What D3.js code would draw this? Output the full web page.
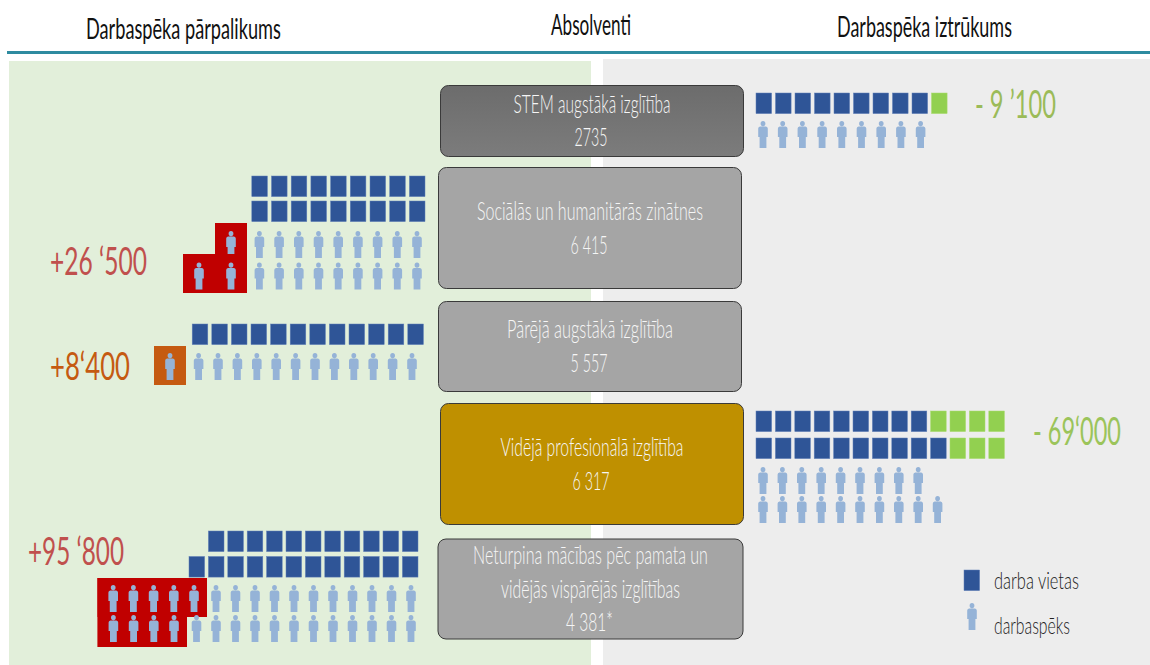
<!DOCTYPE html>
<html>
<head>
<meta charset="utf-8">
<script src="https://cdn.jsdelivr.net/npm/d3@7"></script>
<style>
    html, body { margin: 0; padding: 0; background: #fff; }
    svg { display: block; }
    text { font-family: Lato, "Open Sans", sans-serif; }
</style>
</head>
<body>
<div class="Canvas"></div>
<script>
// values
const headers = ['Darbaspēka pārpalikums', 'Absolventi', 'Darbaspēka iztrūkums'];
const categories = [
    ['STEM augstākā izglītība'],
    ['Sociālās un humanitārās zinātnes'],
    ['Pārējā augstākā izglītība'],
    ['Vidējā profesionālā izglītība'],
    ['Neturpina mācības pēc pamata un', 'vidējās vispārējās izglītības'],
];
const graduates = ['2735', '6 415', '5 557', '6 317', '4 381*'];
const balances = ['- 9 ’100', '+26 ‘500', '+8‘400', '- 69‘000', '+95 ‘800'];
// one entry for each icon row: number of squares (jobs) and figures (workers)
const jobs = [[10], [9, 9], [12], [13, 13], [11, 12]];
const workers = [[9], [10, 11], [13], [9, 10], [16, 16]];
const legendLabels = ['darba vietas', 'darbaspēks'];

const width = 1150;
const height = 665;
const squareW = 15.6;
const squareH = 20.6;

const blue = '#2f5597';
const lightBlue = '#95b3d7';
const green = '#92d050';
const red = '#c00000';
const orange = '#c55a11';

// layout of each group. side 1 grows to the right, side -1 grows to the left from the box
const layout = [
    { side: 1, start: 756, pitch: 19.5, personStart: 763, personPitch: 19.7, jobY: [93], personY: [121] },
    {
        side: -1, start: 425, pitch: 19.7, personStart: 417, personPitch: 19.7, jobY: [176, 201], personY: [231, 262.5],
        extraX: [231, 231], extraPitch: 32, extraY: [[223, 254], [254, 293]], padL: 16, padR: 16, extraColor: red,
    },
    {
        side: -1, start: 423.4, pitch: 19.6, personStart: 412, personPitch: 19.4, jobY: [324], personY: [353],
        extraX: [170], extraPitch: 32, extraY: [[346, 385]], padL: 16, padR: 16, extraColor: orange,
    },
    { side: 1, start: 756, pitch: 19.4, personStart: 763, personPitch: 19.4, jobY: [411, 438], personY: [467, 496] },
    {
        side: -1, start: 418, pitch: 19.4, personStart: 411, personPitch: 19.5, jobY: [531, 556.5], personY: [585, 615],
        extraX: [194, 174], extraPitch: 20.2, extraY: [[578, 617], [617, 647]], padL: 16, padR: 13, extraColor: red,
    },
];

const boxes = [
    { x: 440.5, y: 85.5, w: 303, h: 71, fill: 'url(#stemFill)', baselines: [113, 146] },
    { x: 438.5, y: 167.5, w: 303, h: 121, fill: '#a5a5a5', baselines: [220, 254] },
    { x: 438.5, y: 301.5, w: 303, h: 90, fill: '#a5a5a5', baselines: [338, 372] },
    { x: 440.5, y: 403.5, w: 303, h: 121, fill: '#bf9000', baselines: [456, 490] },
    { x: 438, y: 539, w: 305, h: 100, fill: '#a5a5a5', baselines: [564, 598, 631] },
];
const labelWidths = [[157], [226], [166], [183], [235, 179]];
const numberWidths = [33, 37, 37, 37, 47];

const balanceLayout = [
    { x: 975, y: 118, w: 81, fill: '#9bbb59' },
    { x: 50, y: 275, w: 97, fill: '#c0504d' },
    { x: 50, y: 380, w: 80, fill: orange },
    { x: 1033, y: 445, w: 88, fill: '#9bc45a' },
    { x: 28, y: 565, w: 96, fill: '#c0504d' },
];
const headerLayout = [
    { x: 86, y: 39, w: 195 },
    { x: 551, y: 35, w: 80 },
    { x: 837, y: 37, w: 175 },
];

const personPath = 'M-2.4,2.6 A2.4,2.6 0 1 1 2.4,2.6 A2.4,2.6 0 1 1 -2.4,2.6 Z '
    + 'M-3,5.4 L3,5.4 Q4.8,5.6 4.8,7.6 L4.8,16 L3.4,16 L3.4,27 L-3.4,27 L-3.4,16 L-4.8,16 L-4.8,7.6 Q-4.8,5.6 -3,5.4 Z';

const svg = d3.select('.Canvas').append('svg').attr('width', width).attr('height', height);

const stemFill = svg.append('defs').append('linearGradient')
    .attr('id', 'stemFill').attr('x1', 0).attr('y1', 0).attr('x2', 0).attr('y2', 1);
stemFill.append('stop').attr('offset', 0).attr('stop-color', '#6c6c6c');
stemFill.append('stop').attr('offset', 1).attr('stop-color', '#7c7c7c');

// backgrounds and the line under the headers
svg.append('rect').attr('x', 9).attr('y', 61).attr('width', 582).attr('height', 604).attr('fill', '#e2efda');
svg.append('rect').attr('x', 603).attr('y', 59).attr('width', 547).attr('height', 606).attr('fill', '#ededed');
svg.append('line')
    .attr('x1', 7).attr('x2', 1150).attr('y1', 52.5).attr('y2', 52.5)
    .attr('stroke', '#2e8ba0').attr('stroke-width', 3);

// no condensed font is installed, so squeeze the text to the width it has in the picture
function fitText(sel, value, x, y, w, size, fill, anchor, weight) {
    const t = sel.append('text')
        .attr('text-anchor', anchor || 'start')
        .attr('font-size', size)
        .attr('font-weight', weight || 400)
        .attr('fill', fill)
        .text(value);
    const k = w / t.node().getComputedTextLength();
    return t.attr('transform', `translate(${x},${y}) scale(${k},1)`);
}

headers.forEach((h, i) => {
    fitText(svg, h, headerLayout[i].x, headerLayout[i].y, headerLayout[i].w, 29, '#111');
});

// middle boxes with the graduate counts
categories.forEach((lines, i) => {
    const b = boxes[i];
    const cx = b.x + b.w / 2;
    svg.append('rect')
        .attr('x', b.x).attr('y', b.y).attr('width', b.w).attr('height', b.h)
        .attr('rx', 8).attr('fill', b.fill).attr('stroke', '#3a3a3a').attr('stroke-width', 1);
    lines.forEach((line, j) => {
        fitText(svg, line, cx, b.baselines[j], labelWidths[i][j], 25, '#f6f6f6', 'middle', 300);
    });
    fitText(svg, graduates[i], cx - 1, b.baselines[lines.length], numberWidths[i], 25, '#f6f6f6', 'middle', 300);
});

// icon rows
layout.forEach((l, g) => {
    const group = svg.append('g').attr('class', 'group');
    const jobX = d3.scaleLinear().domain([0, 1]).range([l.start, l.start + l.side * l.pitch]);
    const personX = d3.scaleLinear().domain([0, 1]).range([l.personStart, l.personStart + l.side * l.personPitch]);

    jobs[g].forEach((count, r) => {
        const matched = workers[g][r];
        group.selectAll(`rect.job${r}`)
            .data(d3.range(count))
            .enter()
            .append('rect')
            .attr('class', `job${r}`)
            .attr('x', (d) => (l.side === 1 ? jobX(d) : jobX(d) - squareW))
            .attr('y', l.jobY[r])
            .attr('width', squareW)
            .attr('height', squareH)
            .attr('fill', (d) => (d >= matched ? green : blue))
            .attr('stroke', (d) => (d >= matched ? '#a9dc6e' : '#5f7fb8'))
            .attr('stroke-width', 0.5);
    });

    workers[g].forEach((count, r) => {
        const matched = Math.min(count, jobs[g][r]);
        const extra = count - matched;
        let positions = d3.range(matched).map((d) => ({ x: personX(d), y: l.personY[r] }));

        if (extra > 0) {
            const extraScale = d3.scaleLinear().domain([0, 1]).range([l.extraX[r], l.extraX[r] - l.extraPitch]);
            const band = l.extraY[r];
            group.append('rect')
                .attr('x', extraScale(extra - 1) - l.padL)
                .attr('y', band[0])
                .attr('width', extraScale(0) - extraScale(extra - 1) + l.padL + l.padR)
                .attr('height', band[1] - band[0])
                .attr('fill', l.extraColor);
            positions = positions.concat(d3.range(extra).map((d) => ({ x: extraScale(d), y: l.personY[r] })));
        }

        group.selectAll(`path.worker${r}`)
            .data(positions)
            .enter()
            .append('path')
            .attr('class', `worker${r}`)
            .attr('d', personPath)
            .attr('transform', (d) => `translate(${d.x},${d.y})`)
            .attr('fill', lightBlue);
    });

    const bl = balanceLayout[g];
    fitText(svg, balances[g], bl.x, bl.y, bl.w, 39, bl.fill, 'start', 400);
});

// legend
svg.append('rect')
    .attr('x', 964).attr('y', 570).attr('width', squareW).attr('height', squareH)
    .attr('fill', blue).attr('stroke', '#5f7fb8').attr('stroke-width', 0.5);
svg.append('path')
    .attr('d', personPath)
    .attr('transform', 'translate(972,603)')
    .attr('fill', lightBlue);
fitText(svg, legendLabels[0], 994, 589, 85, 23, '#222', 'start', 300);
fitText(svg, legendLabels[1], 994, 634, 76, 23, '#222', 'start', 300);
</script>
</body>
</html>
